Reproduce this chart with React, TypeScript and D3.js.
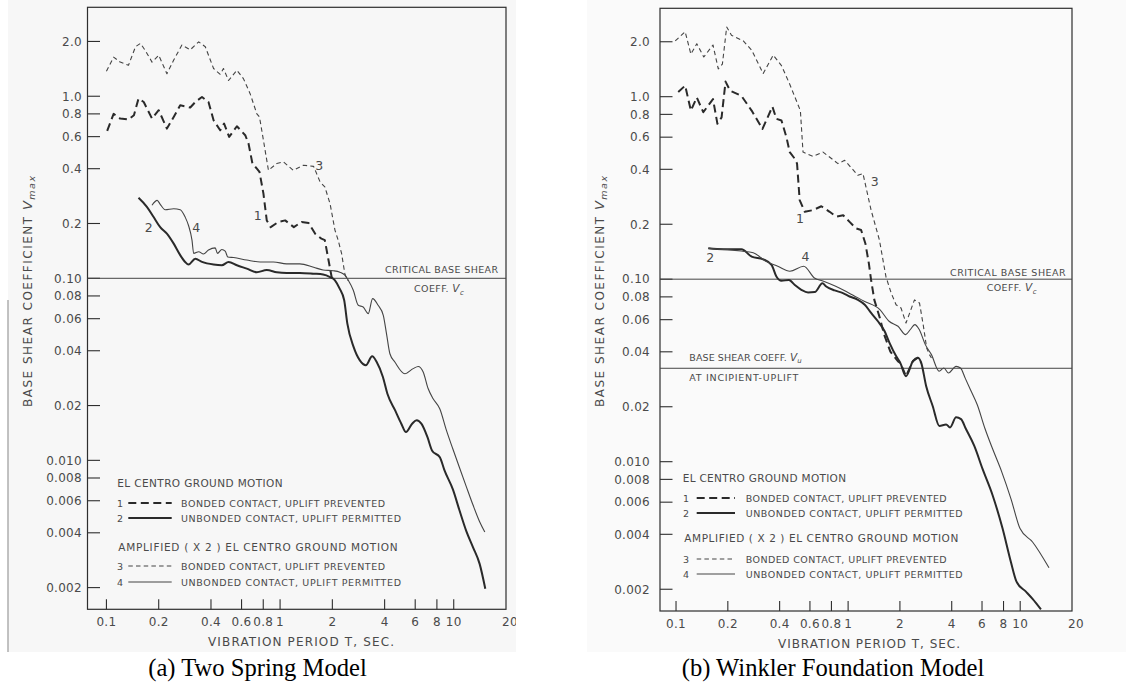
import React from "react";
import * as d3 from "d3";

type Pt = [number, number];

// ---------- DATA : (T [sec], Vmax) ----------
// (a) Two Spring Model
const a1: Pt[] = [[0.101,0.645],[0.11,0.8],[0.12,0.754],[0.134,0.745],[0.144,0.787],[0.153,0.97],[0.164,0.93],[0.183,0.754],[0.2,0.838],[0.223,0.664],[0.244,0.77],[0.266,0.892],[0.304,0.867],[0.325,0.93],[0.355,0.99],[0.387,0.93],[0.414,0.738],[0.452,0.65],[0.476,0.708],[0.509,0.598],[0.564,0.684],[0.63,0.611],[0.658,0.55],[0.693,0.427],[0.735,0.4],[0.761,0.384],[0.802,0.292],[0.838,0.208],[0.883,0.191],[0.978,0.204],[1.07,0.208],[1.2,0.191],[1.33,0.204],[1.46,0.201],[1.59,0.176],[1.73,0.165],[1.81,0.162],[1.9,0.126],[1.98,0.102],[2.04,0.0957]];
const a2: Pt[] = [[0.153,0.277],[0.171,0.247],[0.187,0.217],[0.204,0.191],[0.223,0.176],[0.244,0.155],[0.266,0.134],[0.284,0.123],[0.297,0.119],[0.325,0.128],[0.355,0.123],[0.414,0.119],[0.462,0.118],[0.505,0.123],[0.564,0.118],[0.643,0.113],[0.735,0.108],[0.838,0.111],[0.957,0.108],[1.09,0.107],[1.3,0.107],[1.56,0.106],[1.77,0.105],[1.94,0.1016],[2.07,0.0975],[2.2,0.088],[2.34,0.0757],[2.44,0.0564],[2.65,0.042],[2.88,0.0354],[3.12,0.0333],[3.39,0.0373],[3.6,0.0347],[3.91,0.0287],[4.15,0.0232],[4.6,0.0188],[4.99,0.0159],[5.31,0.0143],[5.76,0.0159],[6.12,0.0166],[6.51,0.0159],[7.06,0.0134],[7.51,0.0113],[8.32,0.0104],[8.85,0.0088],[9.9,0.0069],[10.8,0.0053],[11.8,0.0041],[12.9,0.00334],[14.1,0.0027],[15.2,0.00197]];
const a3: Pt[] = [[0.1,1.37],[0.11,1.64],[0.12,1.54],[0.134,1.48],[0.147,1.87],[0.157,1.95],[0.167,1.79],[0.183,1.54],[0.2,1.68],[0.223,1.33],[0.244,1.58],[0.272,1.91],[0.304,1.8],[0.34,1.99],[0.371,1.87],[0.414,1.42],[0.452,1.32],[0.472,1.42],[0.505,1.22],[0.564,1.39],[0.615,1.25],[0.673,1.03],[0.735,0.8],[0.761,0.77],[0.802,0.573],[0.857,0.392],[0.957,0.427],[1.045,0.436],[1.19,0.392],[1.36,0.418],[1.56,0.412],[1.7,0.338],[1.81,0.318],[1.94,0.257],[2.07,0.184],[2.16,0.162],[2.26,0.137],[2.36,0.106],[2.42,0.1],[2.47,0.097]];
const a4: Pt[] = [[0.183,0.252],[0.196,0.268],[0.204,0.255],[0.218,0.238],[0.244,0.241],[0.266,0.238],[0.284,0.217],[0.297,0.195],[0.311,0.162],[0.318,0.137],[0.34,0.14],[0.362,0.136],[0.387,0.143],[0.423,0.147],[0.436,0.137],[0.462,0.144],[0.483,0.141],[0.5,0.131],[0.54,0.13],[0.643,0.126],[0.768,0.123],[0.916,0.123],[1.09,0.12],[1.3,0.12],[1.56,0.115],[1.77,0.111],[2.02,0.11],[2.21,0.108],[2.36,0.104],[2.47,0.0975],[2.64,0.086],[2.82,0.0711],[3.01,0.0696],[3.22,0.064],[3.41,0.0773],[3.67,0.0711],[3.93,0.0626],[4.1,0.0497],[4.29,0.0385],[4.58,0.0347],[5.23,0.0299],[5.84,0.0319],[6.24,0.0328],[6.67,0.0306],[7.12,0.0248],[7.61,0.0218],[8.31,0.0192],[9.08,0.0146],[9.9,0.0115],[10.8,0.0091],[11.8,0.0072],[12.9,0.0057],[14.1,0.0046],[15.1,0.00404]];

// (b) Winkler Foundation Model
const b1: Pt[] = [[0.103,1.06],[0.113,1.15],[0.122,0.839],[0.132,0.99],[0.144,0.822],[0.164,0.97],[0.174,0.71],[0.184,0.77],[0.194,1.21],[0.206,1.08],[0.24,1.01],[0.275,0.839],[0.318,0.666],[0.363,0.882],[0.383,0.756],[0.41,0.74],[0.438,0.6],[0.458,0.497],[0.49,0.457],[0.505,0.43],[0.523,0.271],[0.56,0.234],[0.625,0.239],[0.699,0.251],[0.781,0.234],[0.854,0.22],[0.936,0.224],[1.02,0.206],[1.11,0.19],[1.19,0.186],[1.26,0.157],[1.32,0.122],[1.36,0.099],[1.42,0.077],[1.53,0.0612],[1.62,0.0497],[1.76,0.0401],[1.95,0.0354],[2.01,0.0348],[2.17,0.0294],[2.38,0.0356],[2.54,0.0371],[2.66,0.0348]];
const b2: Pt[] = [[0.154,0.1476],[0.188,0.146],[0.24,0.146],[0.275,0.133],[0.321,0.1285],[0.359,0.1197],[0.383,0.1035],[0.41,0.098],[0.453,0.099],[0.49,0.093],[0.535,0.0875],[0.585,0.0846],[0.64,0.085],[0.709,0.095],[0.746,0.0912],[0.835,0.0868],[0.933,0.0839],[1.02,0.0804],[1.14,0.0771],[1.25,0.0724],[1.36,0.0653],[1.49,0.0588],[1.63,0.0518],[1.74,0.0448],[1.9,0.0379],[2.01,0.0348],[2.17,0.0294],[2.38,0.0356],[2.54,0.0371],[2.66,0.0348],[2.84,0.026],[3.1,0.0202],[3.39,0.0157],[3.71,0.016],[3.91,0.0154],[4.24,0.0175],[4.53,0.0171],[4.84,0.0151],[5.41,0.0122],[6.05,0.0091],[6.92,0.00653],[7.9,0.0043],[8.83,0.00282],[9.52,0.0022],[10.8,0.00194],[11.8,0.00177],[13.2,0.00155]];
const b3: Pt[] = [[0.099,2.02],[0.113,2.27],[0.122,1.71],[0.132,1.95],[0.145,1.65],[0.164,1.92],[0.176,1.42],[0.186,1.51],[0.197,2.41],[0.21,2.17],[0.246,2.02],[0.275,1.8],[0.321,1.34],[0.367,1.69],[0.41,1.48],[0.458,1.17],[0.505,0.93],[0.528,0.839],[0.547,0.497],[0.625,0.471],[0.715,0.497],[0.873,0.43],[0.955,0.448],[1.14,0.371],[1.22,0.379],[1.36,0.239],[1.52,0.164],[1.66,0.103],[1.78,0.0839],[1.9,0.0724],[2.03,0.0695],[2.17,0.0575],[2.43,0.077],[2.6,0.074],[2.74,0.0552],[2.86,0.042],[2.97,0.0386],[3.05,0.037]];
const b4: Pt[] = [[0.154,0.1476],[0.239,0.1426],[0.281,0.1395],[0.332,0.1256],[0.39,0.1178],[0.459,0.1106],[0.552,0.1178],[0.637,0.1016],[0.72,0.0975],[0.847,0.0915],[1.01,0.0841],[1.24,0.0757],[1.53,0.0681],[1.73,0.0588],[1.95,0.0552],[2.16,0.0497],[2.3,0.053],[2.44,0.0564],[2.59,0.053],[2.81,0.0438],[3.05,0.0386],[3.38,0.0313],[3.6,0.0326],[3.83,0.0306],[4.24,0.0333],[4.5,0.0326],[4.79,0.0287],[5.19,0.0243],[5.63,0.0205],[6.24,0.0152],[6.9,0.0118],[7.81,0.0088],[8.83,0.00628],[9.98,0.0043],[11.8,0.00363],[14.7,0.00262]];

// ---------- ticks / labels ----------
const yTickValues = [2, 1, 0.8, 0.6, 0.4, 0.2, 0.1, 0.08, 0.06, 0.04, 0.02, 0.01, 0.008, 0.006, 0.004, 0.002];
const yTickLabels = ["2.0", "1.0", "0.8", "0.6", "0.4", "0.2", "0.10", "0.08", "0.06", "0.04", "0.02", "0.010", "0.008", "0.006", "0.004", "0.002"];
const xTickValues = [0.1, 0.2, 0.4, 0.6, 0.8, 1, 2, 4, 6, 8, 10];
const xTickLabels = ["0.1", "0.2", "0.4", "0.6", "0.8", "1", "2", "4", "6", "8", "10"];
const xEndValue = 20;
const xEndLabel = "20";

const curveNames = ["1", "2", "3", "4"];
// curve label anchor points in data space (T, V)
const labelPtsA: Pt[] = [[0.743, 0.222], [0.175, 0.191], [1.68, 0.414], [0.329, 0.191]];
const labelPtsB: Pt[] = [[0.525, 0.216], [0.158, 0.131], [1.43, 0.345], [0.565, 0.133]];

const legendHeads = ["EL CENTRO GROUND MOTION", "AMPLIFIED ( X 2 ) EL CENTRO GROUND MOTION"];
const legendRows = ["BONDED CONTACT, UPLIFT PREVENTED", "UNBONDED CONTACT, UPLIFT PERMITTED"];

const criticalV = 0.1;
const upliftV = 0.0325;

const xTitle = "VIBRATION PERIOD T, SEC.";
const yTitle = "BASE SHEAR COEFFICIENT ";
const captionA = "(a) Two Spring Model";
const captionB = "(b) Winkler Foundation Model";

// ---------- styles ----------
const INK = "#2e2e2e";
const TXT = "#4a4a4a";
const SANS = "'DejaVu Sans', 'Liberation Sans', sans-serif";
const SERIF = "'Liberation Serif', 'Times New Roman', serif";

const seriesStyles = [
  { w: 2.0, dash: "8,4.5", color: "#2a2a2a", smooth: false },
  { w: 2.0, dash: undefined, color: "#2a2a2a", smooth: true },
  { w: 1.1, dash: "4.5,3.2", color: "#444", smooth: false },
  { w: 1.1, dash: undefined, color: "#444", smooth: true },
];

interface PanelCfg {
  id: string;
  x0: number; x1: number; y0: number; y1: number;
  tMin: number; tMax: number; vMin: number; vMax: number;
  tickLabelRight: number; xLabelBase: number;
  series: Pt[][]; labelPts: Pt[];
  yTitleX: number; xTitleX: number; xTitleW: number; xTitleBase: number;
  crit: { x: number; w: number; base: number; cx: number; cbase: number };
  uplift?: { x: number; w2: number; b1: number; b2: number };
  leg: { numX: number; l0: number; l1: number; tx: number; hx: number[]; hw: number[]; rw: number[]; base: number[] };
  caption: string; capX: number;
  bg: { x: number; w: number; fill: string };
}

const Panel: React.FC<{ c: PanelCfg }> = ({ c }) => {
  const xs = d3.scaleLog().domain([c.tMin, c.tMax]).range([c.x0, c.x1]);
  const ys = d3.scaleLog().domain([c.vMin, c.vMax]).range([c.y1, c.y0]);
  const mk = (smooth: boolean) =>
    d3.line<Pt>().x((d) => xs(d[0])).y((d) => ys(d[1])).curve(smooth ? d3.curveMonotoneX : d3.curveLinear);

  const legendY = [c.leg.base[1], c.leg.base[2], c.leg.base[4], c.leg.base[5]];
  const clipId = "clip-" + c.id;

  return (
    <g>
      <defs>
        <clipPath id={clipId}>
          <rect x={c.bg.x} y={0} width={c.bg.w} height={652} />
        </clipPath>
      </defs>
      <g clipPath={`url(#${clipId})`}>
        <rect x={c.bg.x} y={0} width={c.bg.w} height={652} fill={c.bg.fill} />
        <rect x={c.x0} y={c.y0} width={c.x1 - c.x0} height={c.y1 - c.y0} fill="none" stroke={INK} strokeWidth={1.2} />
        {yTickValues.map((v, i) => (
          <g key={"y" + i}>
            <line x1={c.x0} x2={c.x0 + 12.5} y1={ys(v)} y2={ys(v)} stroke={INK} strokeWidth={1.1} />
            <text x={c.tickLabelRight} y={ys(v) + 4.3} textAnchor="end" fontFamily={SANS} fontSize={12} letterSpacing={0.3} fill={TXT}>
              {yTickLabels[i]}
            </text>
          </g>
        ))}
        {xTickValues.map((t, i) => (
          <g key={"x" + i}>
            <line x1={xs(t)} x2={xs(t)} y1={c.y1} y2={c.y1 - 10} stroke={INK} strokeWidth={1.1} />
            <text x={xs(t)} y={c.xLabelBase} textAnchor="middle" fontFamily={SANS} fontSize={12} letterSpacing={0.3} fill={TXT}>
              {xTickLabels[i]}
            </text>
          </g>
        ))}
        <text x={xs(xEndValue) + 4} y={c.xLabelBase} textAnchor="middle" fontFamily={SANS} fontSize={12} letterSpacing={0.3} fill={TXT}>
          {xEndLabel}
        </text>
        <line x1={c.x0} x2={c.x1} y1={ys(criticalV)} y2={ys(criticalV)} stroke="#444" strokeWidth={1} />
        <text x={c.crit.x} y={c.crit.base} fontFamily={SANS} fontSize={9.5} textLength={c.crit.w} lengthAdjust="spacing" fill={TXT}>
          CRITICAL BASE SHEAR
        </text>
        <text x={c.crit.cx} y={c.crit.cbase} fontFamily={SANS} fontSize={9.5} letterSpacing={0.4} fill={TXT}>
          COEFF.{" "}
          <tspan fontStyle="italic" fontSize={10.5}>V</tspan>
          <tspan fontStyle="italic" fontSize={7} dy={2.5}>c</tspan>
        </text>
        {c.uplift && (
          <g>
            <line x1={c.x0} x2={c.x1} y1={ys(upliftV)} y2={ys(upliftV)} stroke="#444" strokeWidth={1} />
            <text x={c.uplift.x} y={c.uplift.b1} fontFamily={SANS} fontSize={9.5} letterSpacing={0.1} fill={TXT}>
              BASE SHEAR COEFF.{"  "}
              <tspan fontStyle="italic" fontSize={10.5}>V</tspan>
              <tspan fontStyle="italic" fontSize={7} dy={2.5}>u</tspan>
            </text>
            <text x={c.uplift.x} y={c.uplift.b2} fontFamily={SANS} fontSize={9.5} textLength={c.uplift.w2} lengthAdjust="spacing" fill={TXT}>
              AT INCIPIENT-UPLIFT
            </text>
          </g>
        )}
        {c.series.map((s, i) => (
          <path key={"s" + i} d={mk(seriesStyles[i].smooth)(s) || ""} fill="none" stroke={seriesStyles[i].color}
            strokeWidth={seriesStyles[i].w} strokeDasharray={seriesStyles[i].dash} strokeLinejoin="round" />
        ))}
        {c.labelPts.map((p, i) => (
          <text key={"cl" + i} x={xs(p[0])} y={ys(p[1]) + 4.5} textAnchor="middle" fontFamily={SANS} fontSize={12.5} fill={TXT}>
            {curveNames[i]}
          </text>
        ))}
        <text x={c.leg.hx[0]} y={c.leg.base[0]} fontFamily={SANS} fontSize={10.5} textLength={c.leg.hw[0]} lengthAdjust="spacing" fill={TXT}>
          {legendHeads[0]}
        </text>
        <text x={c.leg.hx[1]} y={c.leg.base[3]} fontFamily={SANS} fontSize={10.5} textLength={c.leg.hw[1]} lengthAdjust="spacing" fill={TXT}>
          {legendHeads[1]}
        </text>
        {legendY.map((b, i) => (
          <g key={"lg" + i}>
            <text x={c.leg.numX} y={b} textAnchor="middle" fontFamily={SANS} fontSize={9.5} fill={TXT}>{curveNames[i]}</text>
            <line x1={c.leg.l0} x2={c.leg.l1} y1={b - 3.5} y2={b - 3.5} stroke={seriesStyles[i].color}
              strokeWidth={seriesStyles[i].w} strokeDasharray={seriesStyles[i].dash} />
            <text x={c.leg.tx} y={b} fontFamily={SANS} fontSize={9.5} textLength={c.leg.rw[i % 2]} lengthAdjust="spacing" fill={TXT}>
              {legendRows[i % 2]}
            </text>
          </g>
        ))}
        <text x={c.xTitleX} y={c.xTitleBase} fontFamily={SANS} fontSize={12} textLength={c.xTitleW} lengthAdjust="spacing" fill={TXT}>
          {xTitle}
        </text>
        <text transform={`translate(${c.yTitleX},407) rotate(-90)`} fontFamily={SANS} fontSize={12} letterSpacing={1.5} fill={TXT}>
          {yTitle}
          <tspan fontStyle="italic" fontSize={13}>V</tspan>
          <tspan fontStyle="italic" fontSize={9.5} dy={3}>max</tspan>
        </text>
      </g>
      <text x={c.capX} y={676} textAnchor="middle" fontFamily={SERIF} fontSize={24.6} fill="#000">
        {c.caption}
      </text>
    </g>
  );
};

const panelA: PanelCfg = {
  id: "a",
  x0: 87.5, x1: 506, y0: 7.3, y1: 609.3,
  tMin: 0.0778, tMax: 20, vMin: 0.00152, vMax: 3.08,
  tickLabelRight: 82, xLabelBase: 626,
  series: [a1, a2, a3, a4], labelPts: labelPtsA,
  yTitleX: 32.4, xTitleX: 208, xTitleW: 186, xTitleBase: 645.5,
  crit: { x: 385, w: 113, base: 272.5, cx: 414, cbase: 292 },
  leg: { numX: 120, l0: 128.3, l1: 171.7, tx: 181, hx: [117.3, 118.3], hw: [165.3, 279.3], rw: [204, 220],
    base: [487, 506.5, 521.5, 551, 569.5, 585.5] },
  caption: captionA, capX: 257.5,
  bg: { x: 8, w: 508, fill: "#f7f7f7" },
};

const panelB: PanelCfg = {
  id: "b",
  x0: 660, x1: 1072, y0: 8.3, y1: 611,
  tMin: 0.0807, tMax: 20, vMin: 0.00152, vMax: 3.05,
  tickLabelRight: 650, xLabelBase: 627.5,
  series: [b1, b2, b3, b4], labelPts: labelPtsB,
  yTitleX: 604.4, xTitleX: 778, xTitleW: 182, xTitleBase: 647.5,
  crit: { x: 950, w: 115.7, base: 275.5, cx: 986.7, cbase: 291 },
  uplift: { x: 689.3, w2: 109, b1: 360.5, b2: 381 },
  leg: { numX: 686, l0: 696.7, l1: 735, tx: 745.7, hx: [682.7, 684.3], hw: [163.3, 274], rw: [201, 217],
    base: [482, 501.5, 516.5, 542, 562.5, 577.5] },
  caption: captionB, capX: 833,
  bg: { x: 587, w: 539, fill: "#fafafa" },
};

export default function App() {
  return (
    <svg width={1126} height={685} viewBox="0 0 1126 685"
      style={{ position: "absolute", left: 0, top: 0, display: "block", background: "#fff" }}>
      <rect x={0} y={0} width={1126} height={685} fill="#fff" />
      <Panel c={panelA} />
      <Panel c={panelB} />
      <line x1={8} x2={8} y1={300} y2={652} stroke="#9a9a9a" strokeWidth={1.2} />
    </svg>
  );
}
